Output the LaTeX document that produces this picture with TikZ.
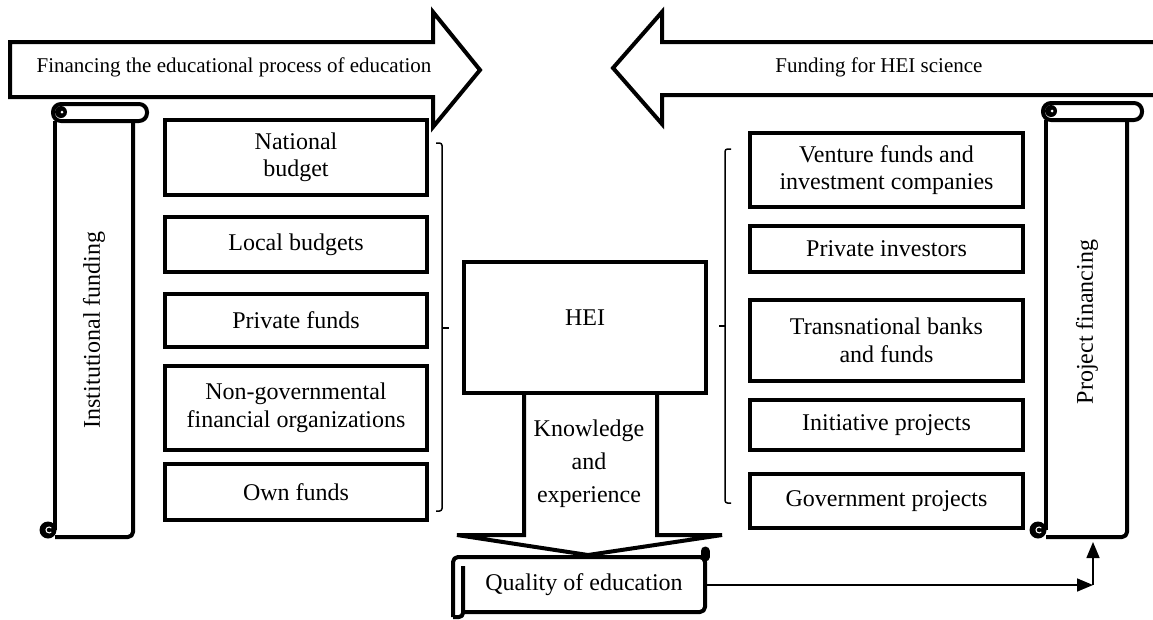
\documentclass[tikz,border=0pt]{standalone}
\usepackage{fontspec}
\setmainfont{Liberation Serif}
\usetikzlibrary{arrows.meta}

\tikzset{
  fundbox/.style={draw,line width=4.5pt,align=center,inner sep=0pt,font=\fontsize{24}{27.5}\selectfont},
  bigtext/.style={font=\fontsize{24}{27.5}\selectfont},
  arrowtext/.style={font=\fontsize{21}{24}\selectfont},
  rollline/.style={line width=4pt,line join=round},
  fatarrow/.style={line width=4pt,line join=miter},
  bracket/.style={line width=1.5pt,rounded corners=2.5pt},
  flow/.style={line width=1.6pt,-{Triangle[length=16pt,width=13pt]}},
}

\begin{document}
\begin{tikzpicture}[x=1pt,y=-1pt]
\useasboundingbox (0,0) rectangle (1153,619);

% top arrows
\draw[fatarrow] (10,42) -- (433,42) -- (433,12) -- (480,70) -- (433,127) -- (433,97) -- (10,97) -- cycle;
\draw[fatarrow] (1153,42) -- (662,42) -- (662,12) -- (613,68) -- (662,124) -- (662,95) -- (1153,95);
\node[arrowtext] (edu) at (234,67) {Financing the educational process of education};
\node[arrowtext] (sci) at (879,67) {Funding for HEI science};

% left scroll
\draw[rollline,rounded corners=8pt] (53,104) rectangle (147,121);
\draw[rollline] (55,121) -- (55,530);
\draw[rollline,rounded corners=5pt] (133,121) -- (133,537) -- (55,537);
\fill (61,112) circle (6pt);
\fill[white] (62,112) circle (1.5pt);
\fill (48,530) circle (8.5pt);
\draw[white,line width=1pt] ([shift={(40:3pt)}]49,530) arc[start angle=40,end angle=320,radius=3pt];
\node[bigtext,rotate=90] (inst) at (94,330) {Institutional funding};

% right scroll
\draw[rollline,rounded corners=8pt] (1043,103) rectangle (1142,120);
\draw[rollline] (1046,120) -- (1046,530);
\draw[rollline,rounded corners=5pt] (1127,120) -- (1127,537) -- (1046,537);
\fill (1051,111) circle (6pt);
\fill[white] (1052,111) circle (1.5pt);
\fill (1038,530) circle (8.5pt);
\draw[white,line width=1pt] ([shift={(40:3pt)}]1039,530) arc[start angle=40,end angle=320,radius=3pt];
\node[bigtext,rotate=90] (proj) at (1087,322) {Project financing};
\coordinate (projfoot) at (1087,537);

% institutional sources
\node[fundbox,minimum width=262pt,minimum height=75pt] (nat) at (296,157.5) {National\\budget};
\node[fundbox,minimum width=262pt,minimum height=55pt] (loc) at (296,244.5) {Local budgets};
\node[fundbox,minimum width=262pt,minimum height=53pt] (priv) at (296,320.5) {Private funds};
\node[fundbox,minimum width=262pt,minimum height=84pt] (ngo) at (296,408) {Non-governmental\\financial organizations};
\node[fundbox,minimum width=262pt,minimum height=56pt] (own) at (296,492) {Own funds};

% project sources
\node[fundbox,minimum width=273pt,minimum height=74pt] (vent) at (886.5,170) {Venture funds and\\investment companies};
\node[fundbox,minimum width=273pt,minimum height=46pt] (inv) at (886.5,249) {Private investors};
\node[fundbox,minimum width=273pt,minimum height=81pt] (trans) at (886.5,340.5) {Transnational banks\\and funds};
\node[fundbox,minimum width=273pt,minimum height=50pt] (init) at (886.5,425) {Initiative projects};
\node[fundbox,minimum width=273pt,minimum height=54pt] (gov) at (886.5,501) {Government projects};

% braces
\draw[bracket] (436,143) -- (442,143) -- (442,511) -- (436,511);
\draw[line width=1.5pt] (442,328) -- (449,328);
\draw[bracket] (731,149) -- (725,149) -- (725,503) -- (731,503);
\draw[line width=1.5pt] (725,326) -- (719,326);

% HEI and output
\node[fundbox,minimum width=242pt,minimum height=131pt,text depth=20pt] (hei) at (585,327.5) {HEI};
\draw[fatarrow] (524,393) -- (524,535) -- (457,535) -- (588,555) -- (722,535) -- (657,535) -- (657,393);
\node[align=center,font=\fontsize{24}{33}\selectfont] (know) at (589,464) {Knowledge\\and\\experience};

\node[bigtext,minimum width=243pt,minimum height=55pt,inner sep=0pt] (qual) at (584,585) {Quality of education};
\draw[rollline,rounded corners=5pt] (453,617) -- (453,557) -- (705,557) -- (705,612) -- (463,612);
\draw[rollline,rounded corners=4pt] (463,566) -- (463,617) -- (453,617);
\draw[line width=9pt,line cap=round] (705,551) -- (705,557);

% flow to project financing
\coordinate (turn) at (1093,585);
\draw[flow] (qual.east) -- (turn);
\draw[flow,shorten >=5pt] (turn) -- (turn |- projfoot);
\end{tikzpicture}
\end{document}
